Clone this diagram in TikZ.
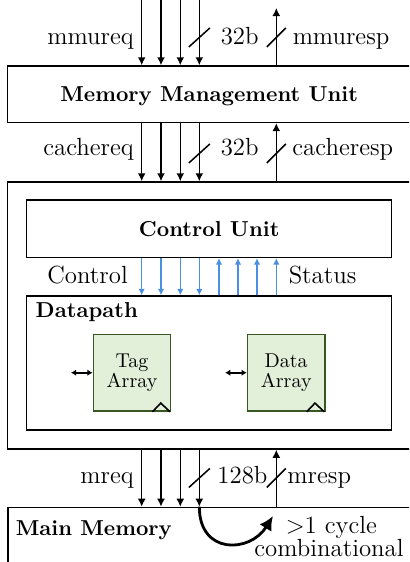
\documentclass[tikz,border=0pt]{standalone}
\usepackage{tikz}
\usetikzlibrary{arrows.meta,calc}
\definecolor{ctrlblue}{RGB}{74,144,226}
\definecolor{arrfill}{RGB}{226,240,217}
\definecolor{arrdraw}{RGB}{56,87,35}

\begin{document}
\begin{tikzpicture}[x=0.5pt,y=-0.5pt,line width=0.75pt,
    font=\fontsize{12.4}{14}\selectfont,
    unit/.style={draw,minimum width=201.8pt,inner sep=0pt},
    inner/.style={draw,minimum width=182.5pt,inner sep=0pt},
    title/.style={inner sep=0pt,anchor=base,font=\fontsize{10.8}{12}\selectfont\bfseries},
    lbl/.style={inner sep=0pt},
    sig/.style={-{Latex[length=4pt,width=4pt]}},
    ctl/.style={ctrlblue,line width=0.6pt,-{Latex[length=3.2pt,width=3.2pt]}},
    sram/.style={draw=arrdraw,fill=arrfill,minimum width=38.7pt,minimum height=38.35pt,
      inner sep=0pt,align=center,font=\fontsize{10}{10}\selectfont}]
    \clip (0,0) rectangle (409,562);

    \node[unit,minimum height=28.2pt] (mmu) at (209.2,94.2) {};
    \node[title] at (209.2,101.7) {Memory Management Unit};
    \node[unit,minimum height=133.5pt] (cache) at (209.2,315.5) {};
    \node[inner,minimum height=28.7pt] (cu) at (209.2,228.7) {};
    \node[title] at (209.2,236.7) {Control Unit};
    \node[inner,minimum height=67pt] (dp) at (209.2,363) {};
    \node[title,anchor=base west] at (35,317.3) {Datapath};
    \node[sram] (tag) at (132,372.7) {Tag\\Array};
    \node[sram] (data) at (286.2,372.7) {Data\\Array};
    \node[unit,minimum height=40pt,anchor=north west] (mem) at (7.3,506.7) {};
    \node[title,anchor=base west] at (15,535) {Main Memory};

    \foreach \x in {141.7,161,180.3,199.3} {
        \draw[sig] (\x,0) -- (\x,0 |- mmu.north);
        \draw[sig] (\x,0 |- mmu.south) -- (\x,0 |- cache.north);
        \draw[ctl] (\x,0 |- cu.south) -- (\x,0 |- dp.north);
        \draw[sig] (\x,0 |- cache.south) -- (\x,0 |- mem.north);
    }
    \foreach \x in {219,238,257,276.3} {
        \draw[ctl] (\x,0 |- dp.north) -- (\x,0 |- cu.south);
    }
    \draw[sig] (276.3,0 |- mmu.north) -- (276.3,8);
    \draw[sig] (276.3,0 |- cache.north) -- (276.3,0 |- mmu.south);
    \draw[sig] (276.3,0 |- mem.north) -- (276.3,0 |- cache.south);
    \foreach \y in {37.5,153.5,478} {
        \draw (199.3,\y) +(-10.5,9.5) -- +(10.5,-9.5);
        \draw (276.3,\y) +(-9.5,9.5) -- +(9.5,-9.5);
    }

    \node[lbl,anchor=base east] at (134.5,44.3) {mmureq};
    \node[lbl,anchor=base west] at (220,44.3) {32b};
    \node[lbl,anchor=base west] at (292,44.3) {mmuresp};
    \node[lbl,anchor=base east] at (134.5,155.5) {cachereq};
    \node[lbl,anchor=base west] at (220,155.5) {32b};
    \node[lbl,anchor=base west] at (291.7,155.5) {cacheresp};
    \node[lbl,anchor=base east] at (128.5,283.8) {Control};
    \node[lbl,anchor=base west] at (288,283.8) {Status};
    \node[lbl,anchor=base east] at (134.5,483.8) {mreq};
    \node[lbl,anchor=base west] at (216.7,483.8) {128b};
    \node[lbl,anchor=base west] at (286.7,483.8) {mresp};

    \foreach \n in {tag,data} {
        \draw[line width=1pt,{Latex[length=2.6pt,width=3.2pt]}-{Latex[length=2.6pt,width=3.2pt]}]
            (\n.west) -- ++(-21.6,0);
        \draw[line width=0.8pt] ($(\n.south east)+(-19,0)$) -- ++(8.3,-8.7) -- ++(9.3,8.7);
    }

    \coordinate (ml) at (199.3,0 |- mem.north);
    \draw[line width=1.4pt,-{Latex[length=7pt,width=7pt]}]
        (ml) .. controls (199.3,555) and (250,553) .. (273,516);
    \node[lbl,anchor=base] at (331.3,533.3) {>1 cycle};
    \node[lbl,anchor=base] at (329,556.7) {combinational};
\end{tikzpicture}
\end{document}
